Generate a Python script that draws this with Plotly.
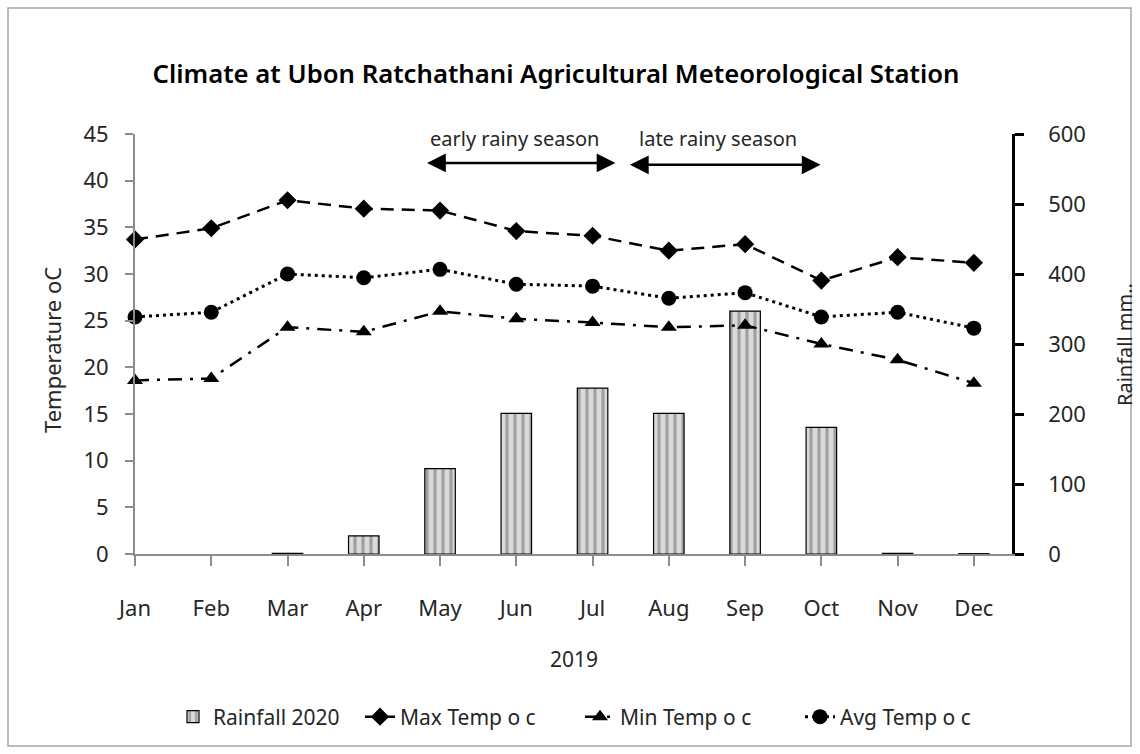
import plotly.graph_objects as go

months = ["Jan", "Feb", "Mar", "Apr", "May", "Jun", "Jul", "Aug", "Sep", "Oct", "Nov", "Dec"]
rainfall = [None, None, 1, 26, 122, 201, 237, 201, 347, 181, 1, 0.5]
max_temp = [33.7, 34.9, 37.9, 37.0, 36.8, 34.6, 34.1, 32.5, 33.2, 29.3, 31.8, 31.2]
min_temp = [18.6, 18.8, 24.3, 23.8, 26.0, 25.2, 24.8, 24.3, 24.5, 22.5, 20.8, 18.3]
avg_temp = [25.4, 25.9, 30.0, 29.6, 30.5, 28.9, 28.7, 27.4, 28.0, 25.4, 25.9, 24.2]

FONT = "Noto Sans"
TXT = "#262626"
AXG = "#8c8c8c"

fig = go.Figure()
fig.add_trace(go.Bar(
    x=months, y=rainfall, name="Rainfall 2020", yaxis="y", width=0.4, legend="legend2",
    marker=dict(color="#d0d0d0", line=dict(color="#000000", width=1.2),
                pattern=dict(shape="|", fgcolor="#666666", bgcolor="#dadada", size=8, solidity=0.4)),
))
fig.add_trace(go.Scatter(
    x=months, y=max_temp, name="Max Temp o c", yaxis="y2", mode="lines+markers", cliponaxis=False,
    line=dict(color="black", width=2.5, dash="13px,8px"),
    marker=dict(symbol="diamond", size=14, color="black"),
))
fig.add_trace(go.Scatter(
    x=months, y=min_temp, name="Min Temp o c", yaxis="y2", mode="lines+markers", cliponaxis=False,
    line=dict(color="black", width=2.5, dash="14px,8px,3px,8px"),
    marker=dict(symbol="triangle-up", size=14, color="black"),
))
fig.add_trace(go.Scatter(
    x=months, y=avg_temp, name="Avg Temp o c", yaxis="y2", mode="lines+markers", cliponaxis=False,
    line=dict(color="black", width=3, dash="3px,4px"),
    marker=dict(symbol="circle", size=15, color="black"),
))

L, R, T, B = 135, 128, 134, 200
W, H = 1140, 754
pw, ph = W - L - R, H - T - B


def px2paper_x(px):
    return (px - L) / pw


def py2paper_y(py):
    return (H - B - py) / ph


annotations = [
    dict(text="Temperature oC", x=px2paper_x(52), y=py2paper_y(350), xref="paper", yref="paper",
         textangle=-90, showarrow=False, font=dict(size=22, color=TXT, family=FONT),
         xanchor="center", yanchor="middle"),
    dict(text="Rainfall mm..", x=px2paper_x(1124), y=py2paper_y(345), xref="paper", yref="paper",
         textangle=-90, showarrow=False, font=dict(size=20, color=TXT, family=FONT),
         xanchor="center", yanchor="middle"),
    dict(text="2019", x=0.5, y=py2paper_y(659), xref="paper", yref="paper",
         showarrow=False, font=dict(size=21, color=TXT, family=FONT),
         xanchor="center", yanchor="middle"),
    dict(text="early rainy season", x=4.97, y=44.5, xref="x", yref="y2", showarrow=False,
         font=dict(size=20, color=TXT, family=FONT), xanchor="center", yanchor="middle"),
    dict(text="late rainy season", x=7.64, y=44.5, xref="x", yref="y2", showarrow=False,
         font=dict(size=20, color=TXT, family=FONT), xanchor="center", yanchor="middle"),
    dict(text="", x=6.30, y=41.9, ax=3.81, ay=41.9, xref="x", yref="y2", axref="x", ayref="y2",
         showarrow=True, arrowhead=2, startarrowhead=2, arrowside="end+start",
         arrowwidth=2.5, arrowsize=1.5, startarrowsize=1.5, arrowcolor="black"),
    dict(text="", x=8.99, y=41.7, ax=6.47, ay=41.7, xref="x", yref="y2", axref="x", ayref="y2",
         showarrow=True, arrowhead=2, startarrowhead=2, arrowside="end+start",
         arrowwidth=2.5, arrowsize=1.5, startarrowsize=1.5, arrowcolor="black"),
]

fig.update_layout(
    width=W, height=H,
    margin=dict(l=L, r=R, t=T, b=B, pad=0),
    paper_bgcolor="white", plot_bgcolor="white",
    font=dict(family=FONT, size=21, color=TXT),
    title=dict(text="Climate at Ubon Ratchathani Agricultural Meteorological Station",
               x=556 / W, y=1 - 74 / H, xanchor="center", yanchor="middle", xref="container",
               font=dict(size=25.7, color="#000000", family=FONT, weight=600)),
    showlegend=True,
    legend=dict(orientation="h", x=px2paper_x(360), y=py2paper_y(717), xanchor="left", yanchor="middle",
                font=dict(size=21, color=TXT, family=FONT), traceorder="normal", itemwidth=30,
                entrywidth=175, entrywidthmode="pixels", bgcolor="rgba(0,0,0,0)"),
    legend2=dict(orientation="h", x=px2paper_x(173), y=py2paper_y(717), xanchor="left", yanchor="middle",
                 font=dict(size=21, color=TXT, family=FONT), itemwidth=30,
                 bgcolor="rgba(0,0,0,0)"),
    xaxis=dict(type="category", range=[0, 11.5], showgrid=False, zeroline=False,
               showline=True, linecolor=AXG, linewidth=2, ticks="outside", tickcolor=AXG,
               ticklen=10, tickwidth=2, ticklabelstandoff=24, anchor="y",
               tickfont=dict(size=22, color=TXT, family=FONT)),
    yaxis=dict(side="right", range=[0, 600], dtick=100, showgrid=False, zeroline=False,
               showline=True, linecolor="black", linewidth=2.5, ticks="outside", tickcolor="black",
               ticklen=9, tickwidth=2.5, ticklabelstandoff=20,
               tickfont=dict(size=22, color=TXT, family=FONT)),
    yaxis2=dict(side="left", overlaying="y", range=[0, 45], dtick=5, showgrid=False, zeroline=False,
                showline=True, linecolor=AXG, linewidth=2, ticks="outside", tickcolor=AXG,
                ticklen=8, tickwidth=2, ticklabelstandoff=12,
                tickfont=dict(size=22, color=TXT, family=FONT)),
    annotations=annotations,
    shapes=[dict(type="rect", xref="paper", yref="paper",
                 x0=px2paper_x(8), x1=px2paper_x(1131), y0=py2paper_y(746), y1=py2paper_y(8),
                 line=dict(color="#a6a6a6", width=1.5), fillcolor="rgba(0,0,0,0)", layer="below")],
)

fig.write_html("out.html", config={"displayModeBar": False},
               post_script="document.body.style.margin='0';document.body.style.overflow='hidden';")
